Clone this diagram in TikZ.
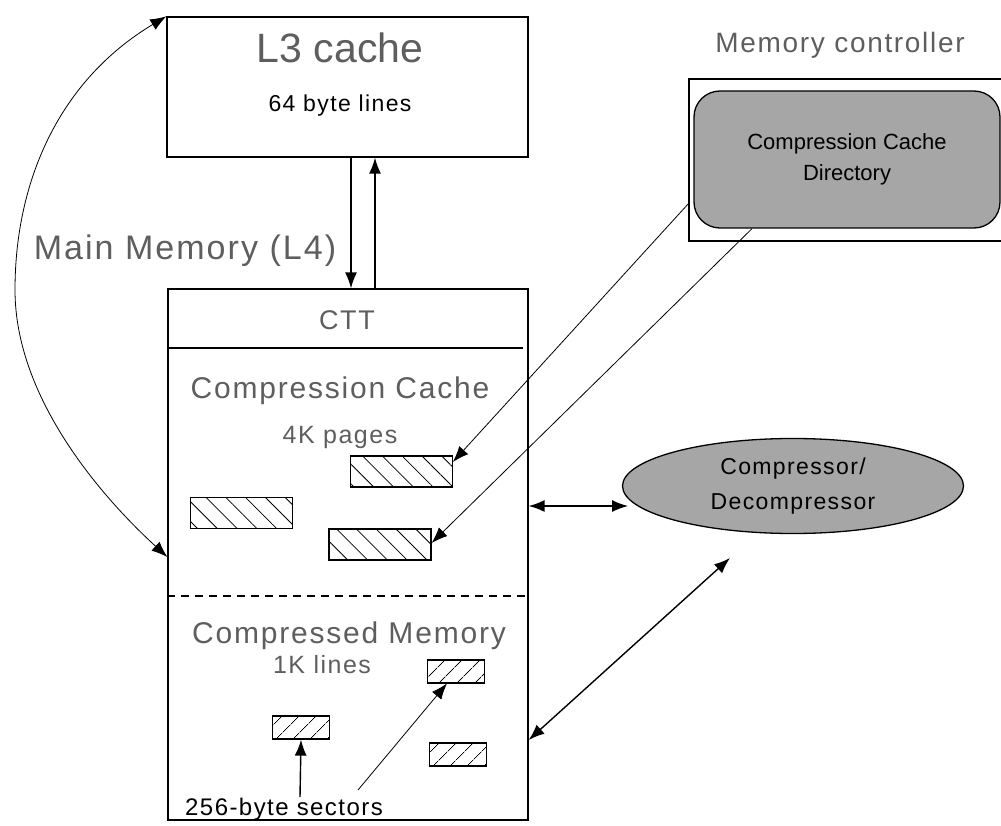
\documentclass[tikz,border=0pt]{standalone}
\usepackage{fontspec}
\setmainfont{Liberation Sans}
\newfontfamily\spc[LetterSpace=6]{Liberation Sans}
\usetikzlibrary{arrows.meta,patterns.meta,shapes.geometric}
\definecolor{lbl}{HTML}{5E5E5E}
\definecolor{fillg}{HTML}{A6A6A6}
\begin{document}
\begin{tikzpicture}[x=1pt,y=-1pt,
  box/.style={draw=black,line width=1.3pt,inner sep=0pt},
  bigtxt/.style={text=lbl,anchor=base,inner sep=0pt},
  smalltxt/.style={text=black,anchor=base,inner sep=0pt},
  hatchbig/.style={box,pattern={Lines[angle=-45,distance=14pt,line width=0.8pt]},minimum width=102pt,minimum height=31pt},
  hatchsmall/.style={box,pattern={Lines[angle=45,distance=13pt,line width=0.8pt]},minimum width=57pt,minimum height=23pt},
  tip/.style={-{Latex[length=16pt,width=12pt]}},
  dtip/.style={{Latex[length=16pt,width=12pt]}-{Latex[length=16pt,width=12pt]}},
  thinln/.style={line width=0.8pt},
  medln/.style={line width=1.4pt}
]
\useasboundingbox (0,0) rectangle (1001,826);

% L3 cache
\node[box,minimum width=361pt,minimum height=140pt] (l3) at (347.5,87) {};
\node[bigtxt,font=\fontsize{41}{48}\selectfont] (l3t) at (340,63) {L3 cache};
\node[smalltxt,font=\spc\fontsize{23}{27}\selectfont] (l3s) at (340,112) {64 byte lines};

% main memory label
\node[bigtxt,font=\spc\fontsize{34}{40}\selectfont] (mm) at (185,260) {Main Memory (L4)};

% CTT box
\node[box,minimum width=360pt,minimum height=531pt] (ctt) at (348,554.5) {};
\node[bigtxt,font=\spc\fontsize{27}{32}\selectfont] (cttt) at (347,330) {CTT};
\draw[line width=1.2pt] (ctt.west |- 0,348) coordinate (sl) -- (523,348) coordinate (sr);
\draw[line width=1.2pt,dash pattern=on 8pt off 6pt] (ctt.west |- 0,596) coordinate (dl) -- (ctt.east |- 0,596) coordinate (dr);

\node[bigtxt,font=\spc\fontsize{30}{36}\selectfont] (cc) at (340,398) {Compression Cache};
\node[bigtxt,font=\spc\fontsize{25}{30}\selectfont] (kp) at (340,443) {4K pages};
\node[bigtxt,font=\spc\fontsize{30}{36}\selectfont] (cm) at (349,643) {Compressed Memory};
\node[bigtxt,font=\spc\fontsize{25}{30}\selectfont] (kl) at (322,673) {1K lines};
\node[smalltxt,font=\spc\fontsize{24}{28}\selectfont] (sec) at (284,815) {256-byte sectors};

% hatched pages
\node[hatchbig] (pa) at (401.5,471.5) {};
\node[hatchbig] (pb) at (241.5,513) {};
\node[hatchbig] (pc) at (380,544.5) {};

% hatched sectors
\node[hatchsmall] (sd) at (456,671.5) {};
\node[hatchsmall] (se) at (301,727.5) {};
\node[hatchsmall] (sf) at (458,754.5) {};

% memory controller
\node[bigtxt,font=\spc\fontsize{28}{34}\selectfont] (mct) at (840,53) {Memory controller};
\coordinate (mcl) at (689,79);
\draw[line width=1.2pt] (1001,79) -- (mcl) -- (689,241) -- (1001,241);
\node[box,fill=fillg,rounded corners=26pt,minimum width=306pt,minimum height=137pt,
      align=center,font=\fontsize{22}{31}\selectfont] (ccd) at (847,159.5)
      {Compression Cache\\Directory};

% compressor
\node[draw=black,line width=1.3pt,ellipse,fill=fillg,inner sep=0pt,minimum width=341pt,minimum height=95pt,
      align=center,font=\spc\fontsize{23}{35}\selectfont] (comp) at (793,486)
      {Compressor/\\Decompressor};

% connectors
\draw[tip,medln] (l3.south -| 351,0) -- (ctt.north -| 351,0);
\draw[tip,medln] (ctt.north -| 375,0) -- (l3.south -| 375,0);

\draw[dtip,thinln] (l3.north west) .. controls (60,80) and (15,180) .. (15,290)
      .. controls (15,400) and (105,500) .. (ctt.west |- 0,557);

\draw[tip,thinln] (mcl |- 0,203) -- (pa.east |- 0,462);
\draw[tip,thinln] (ccd.south -| 752,0) -- (pc.east |- 0,543);

\coordinate (hx) at (628,506);
\draw[dtip,medln] (ctt.east |- 0,506) -- (hx);
\coordinate (dx) at (730,558);
\draw[dtip,medln] (ctt.east |- 0,740) -- (dx);

\coordinate (s1) at (300,797);
\draw[tip,medln] (s1) -- (se.south);
\coordinate (s2) at (358,790);
\draw[tip,thinln] (s2) -- (sd.south -| 447,0);
\end{tikzpicture}
\end{document}
